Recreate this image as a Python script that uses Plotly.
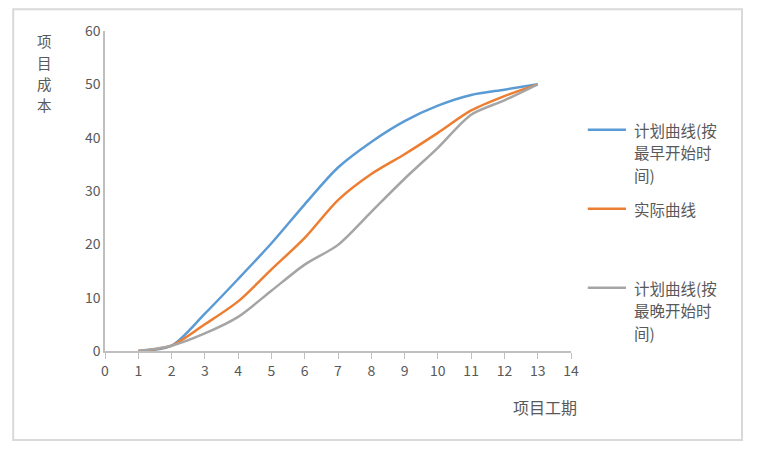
import plotly.graph_objects as go

# 数据
periods = [1, 2, 3, 4, 5, 6, 7, 8, 9, 10, 11, 12, 13]
plan_early = [0, 1, 7, 13.5, 20.2, 27.5, 34.4, 39.2, 43.1, 46, 48, 49, 50]
actual = [0, 1, 5, 9.3, 15.3, 21.2, 28.3, 33.2, 36.9, 40.9, 45.1, 47.8, 50]
plan_late = [0, 1, 3.3, 6.4, 11.3, 16.2, 19.9, 26.1, 32.3, 38.1, 44.3, 47, 50]

series_names = ['计划曲线(按最早开始时间)', '实际曲线', '计划曲线(按最晚开始时间)']
# 图例按参考图的折行方式
legend_lines = [['计划曲线(按', '最早开始时', '间)'], ['实际曲线'], ['计划曲线(按', '最晚开始时', '间)']]
colors = ['#5B9BD5', '#ED7D31', '#A5A5A5']
y_title = ['项', '目', '成', '本']

font = 'Noto Sans CJK SC'
grey_txt = '#595959'

fig = go.Figure()
for i, ys in enumerate([plan_early, actual, plan_late]):
    fig.add_trace(go.Scatter(
        x=periods, y=ys, name=series_names[i], mode='lines',
        line=dict(color=colors[i], width=2.5, shape='spline', smoothing=0.8),
    ))

# 页面本身有 8px 边距，所以画布是 750x445
fig.update_layout(
    width=750, height=445,
    margin=dict(l=97, r=187, t=19, b=102),
    paper_bgcolor='white', plot_bgcolor='white',
    font=dict(family=font, size=13, color=grey_txt),
    showlegend=False,
    xaxis=dict(range=[0, 14], dtick=1, showgrid=False, zeroline=False,
               showline=True, linecolor='#BFBFBF', linewidth=1.5,
               ticks='outside', ticklen=6, tickcolor='#BFBFBF',
               tickfont=dict(size=14, color=grey_txt)),
    yaxis=dict(range=[0, 60], dtick=10, showgrid=False, zeroline=False,
               showline=True, linecolor='#BFBFBF', linewidth=1.5,
               ticks='', tickfont=dict(size=14, color=grey_txt)),
)

# 手工图例：每项间隔 80px，行距 23px（绘图区高 324px）
for i, lines in enumerate(legend_lines):
    top = 0.6914 - i * 80 / 324
    fig.add_shape(type='line', xref='paper', yref='paper',
                  x0=1.036, x1=1.118, y0=top, y1=top,
                  line=dict(color=colors[i], width=2.5))
    for j, txt in enumerate(lines):
        fig.add_annotation(text=txt, xref='paper', yref='paper',
                           x=1.133, y=top - j * 23 / 324,
                           xanchor='left', yanchor='middle', borderpad=0,
                           showarrow=False, font=dict(size=15.5, color=grey_txt))

# 竖排的 y 轴标题，一字一个注释
for k, ch in enumerate(y_title):
    fig.add_annotation(text=ch, xref='paper', yref='paper',
                       x=-0.129, y=0.969 - k * 0.0664,
                       xanchor='center', yanchor='middle', borderpad=0,
                       showarrow=False, font=dict(size=14.5, color=grey_txt))
fig.add_annotation(text='项目工期', xref='paper', yref='paper',
                   x=0.944, y=-0.176, xanchor='center', yanchor='middle',
                   showarrow=False, font=dict(size=16, color=grey_txt))

# 外框
fig.add_shape(type='rect', xref='paper', yref='paper',
              x0=-0.197, x1=1.367, y0=-0.278, y1=1.068,
              line=dict(color='#D9D9D9', width=2))

fig.write_html('out.html')
